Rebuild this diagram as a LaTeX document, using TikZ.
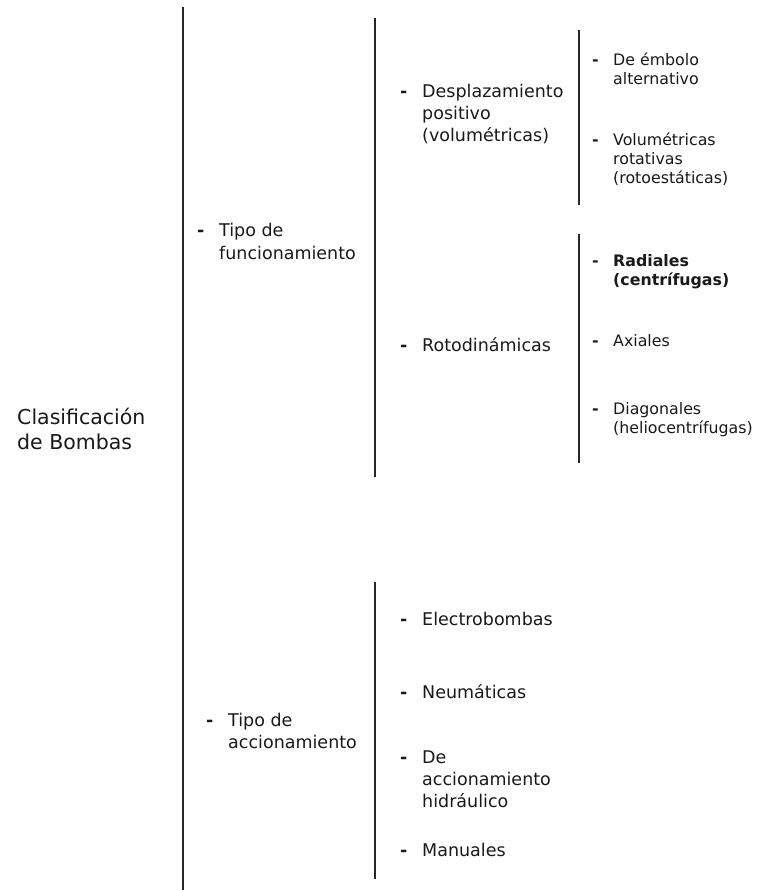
\documentclass[tikz,border=0pt]{standalone}
\usepackage{fontspec}
\setmainfont{DejaVu Sans}
\newcommand\dsh[1]{\makebox[#1][l]{\bfseries -}}
\begin{document}
\begin{tikzpicture}[x=1pt,y=-1pt,
  bar/.style={line width=1.6pt, black!85},
  txt/.style={inner sep=0pt, anchor=base west, text=black!90},
  fA/.style={font=\fontsize{20.5}{25}\selectfont},
  fB/.style={font=\fontsize{17.5}{22}\selectfont},
  fC/.style={font=\fontsize{15.8}{19}\selectfont}]
\useasboundingbox (0,0) rectangle (757,890);
% bracket bars
\coordinate (b1t) at (183,7);   \coordinate (b1b) at (183,890);
\coordinate (b2t) at (375,18);  \coordinate (b2b) at (375,477);
\coordinate (b3t) at (579,30);  \coordinate (b3b) at (579,205);
\coordinate (b4t) at (579,234); \coordinate (b4b) at (579,463);
\coordinate (b5t) at (375,582); \coordinate (b5b) at (375,879);
\draw[bar] (b1t) -- (b1b);
\draw[bar] (b2t) -- (b2b);
\draw[bar] (b3t) -- (b3b);
\draw[bar] (b4t) -- (b4b);
\draw[bar] (b5t) -- (b5b);
% root
\node[txt,fA] (root) at (17,424) {\begin{tabular}[t]{@{}l@{}}Clasificación\\de Bombas\end{tabular}};
% level 1
\node[txt,fB] (fun) at (197,237) {\begin{tabular}[t]{@{}l@{}l@{}}\dsh{22pt}&Tipo de\\&funcionamiento\end{tabular}};
\node[txt,fB] (acc) at (206,726) {\begin{tabular}[t]{@{}l@{}l@{}}\dsh{22pt}&Tipo de\\&accionamiento\end{tabular}};
% level 2
\node[txt,fB] (dsp) at (400,98) {\begin{tabular}[t]{@{}l@{}l@{}}\dsh{22pt}&Desplazamiento\\&positivo\\&(volumétricas)\end{tabular}};
\node[txt,fB] (rot) at (400,351) {\begin{tabular}[t]{@{}l@{}l@{}}\dsh{22pt}&Rotodinámicas\end{tabular}};
\node[txt,fB] (ele) at (400,625) {\begin{tabular}[t]{@{}l@{}l@{}}\dsh{22pt}&Electrobombas\end{tabular}};
\node[txt,fB] (neu) at (400,698) {\begin{tabular}[t]{@{}l@{}l@{}}\dsh{22pt}&Neumáticas\end{tabular}};
\node[txt,fB] (hid) at (400,763) {\begin{tabular}[t]{@{}l@{}l@{}}\dsh{22pt}&De\\&accionamiento\\&hidráulico\end{tabular}};
\node[txt,fB] (man) at (400,856) {\begin{tabular}[t]{@{}l@{}l@{}}\dsh{22pt}&Manuales\end{tabular}};
% level 3
\node[txt,fC] (emb) at (592,66) {\begin{tabular}[t]{@{}l@{}l@{}}\dsh{21pt}&De émbolo\\&alternativo\end{tabular}};
\node[txt,fC] (vol) at (592,146) {\begin{tabular}[t]{@{}l@{}l@{}}\dsh{21pt}&Volumétricas\\&rotativas\\&(rotoestáticas)\end{tabular}};
\node[txt,fC] (rad) at (592,266) {\begin{tabular}[t]{@{}l@{}l@{}}\dsh{21pt}&\bfseries Radiales\\&\bfseries (centrífugas)\end{tabular}};
\node[txt,fC] (axi) at (592,346) {\begin{tabular}[t]{@{}l@{}l@{}}\dsh{21pt}&Axiales\end{tabular}};
\node[txt,fC] (dia) at (592,414) {\begin{tabular}[t]{@{}l@{}l@{}}\dsh{21pt}&Diagonales\\&(heliocentrífugas)\end{tabular}};
\end{tikzpicture}
\end{document}
